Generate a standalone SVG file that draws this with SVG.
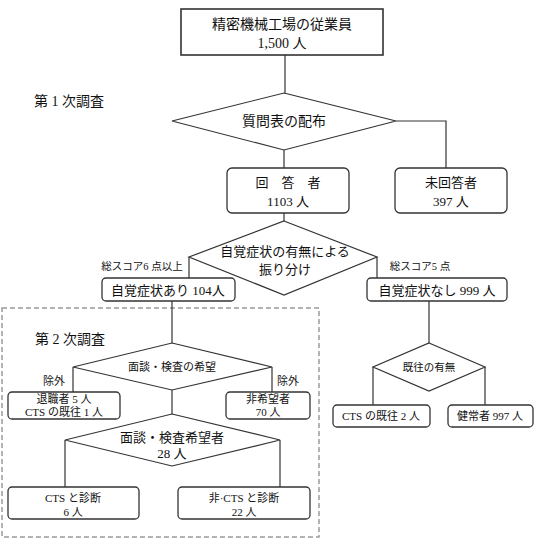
<svg xmlns="http://www.w3.org/2000/svg" width="540" height="545" viewBox="0 0 540 545">
<style>
text{font-family:"Liberation Serif","Noto Sans CJK JP",serif;fill:#111;text-anchor:middle;dominant-baseline:central}
.box{fill:#fff;stroke:#333;stroke-width:1.3}
.dia{fill:#fff;stroke:#333;stroke-width:1.2}
.ln{fill:none;stroke:#333;stroke-width:1.2}
.f14{font-size:14px}.f13{font-size:13px}.f12{font-size:12px}.f11{font-size:11px}.f10{font-size:10.5px}
.lab{text-anchor:start}
</style>
<rect width="540" height="545" fill="#fff"/>
<rect x="2" y="308" width="317" height="229" fill="none" stroke="#9a9a9a" stroke-width="1.5" stroke-dasharray="5,3"/>
<text class="f14 lab" x="34" y="101">第 1 次調査</text>
<text class="f14 lab" x="35" y="339">第 2 次調査</text>
<g id="connectors">
<path class="ln" d="M285 55V93"/>
<path class="ln" d="M396 121H446V168"/>
<path class="ln" d="M284 150V168"/>
<path class="ln" d="M284 213V221"/>
<path class="ln" d="M189 257V278"/>
<path class="ln" d="M377 257V278"/>
<path class="ln" d="M172 301V343"/>
<path class="ln" d="M429 301V343"/>
<path class="ln" d="M73 367V392"/>
<path class="ln" d="M272 367V392"/>
<path class="ln" d="M172 390V414"/>
<path class="ln" d="M65 440V487"/>
<path class="ln" d="M280 440V487"/>
<path class="ln" d="M373 367V405"/>
<path class="ln" d="M485 367V405"/>
<text class="f10" x="142" y="266">総スコア6 点以上</text>
<text class="f10" x="420" y="266">総スコア5 点</text>
<text class="f11" x="54" y="381">除外</text>
<text class="f11" x="288" y="381">除外</text>
</g>
<g id="employees">
<rect x="181" y="9" width="202" height="46" fill="#fff" stroke="#333" stroke-width="1.6"/>
<text class="f14" x="282" y="24">精密機械工場の従業員</text>
<text class="f14" x="282" y="43">1,500 人</text>
</g>
<g id="distribution">
<polygon class="dia" points="284,93 396,121 284,150 172,121"/>
<text class="f14" x="284" y="121">質問表の配布</text>
</g>
<g id="respondents">
<rect class="box" x="227" y="168" width="122" height="45" rx="5"/>
<text class="f13" x="288" y="182">回　答　者</text>
<text class="f13" x="288" y="201">1103 人</text>
</g>
<g id="nonrespondents">
<rect class="box" x="395" y="168" width="112" height="45" rx="5"/>
<text class="f13" x="451" y="182">未回答者</text>
<text class="f13" x="451" y="201">397 人</text>
</g>
<g id="sorting">
<polygon class="dia" points="284,221 377,257 284,295 189,257"/>
<text class="f13" x="285" y="251">自覚症状の有無による</text>
<text class="f13" x="285" y="269">振り分け</text>
</g>
<g id="symptomatic">
<rect class="box" x="102" y="278" width="133" height="23" rx="4"/>
<text class="f13" x="168" y="290">自覚症状あり 104人</text>
</g>
<g id="asymptomatic">
<rect class="box" x="367" y="278" width="140" height="23" rx="4"/>
<text class="f13" x="437" y="290">自覚症状なし 999 人</text>
</g>
<g id="wish">
<polygon class="dia" points="172,343 272,367 172,390 73,367"/>
<text class="f11" x="172" y="367">面談・検査の希望</text>
</g>
<g id="excluded">
<rect class="box" x="8" y="392" width="112" height="27" rx="4"/>
<text class="f11" x="64" y="399">退職者 5 人</text>
<text class="f11" x="64" y="412">CTS の既往 1 人</text>
</g>
<g id="nonwish">
<rect class="box" x="226" y="392" width="84" height="27" rx="4"/>
<text class="f11" x="268" y="399">非希望者</text>
<text class="f11" x="268" y="412">70 人</text>
</g>
<g id="wishers">
<polygon class="dia" points="172,414 280,440 172,466 65,440"/>
<text class="f13" x="172" y="437">面談・検査希望者</text>
<text class="f13" x="172" y="453">28 人</text>
</g>
<g id="cts">
<rect class="box" x="8" y="487" width="131" height="32" rx="4"/>
<text class="f11" x="73" y="498">CTS と診断</text>
<text class="f11" x="73" y="512">6 人</text>
</g>
<g id="noncts">
<rect class="box" x="178" y="487" width="132" height="32" rx="4"/>
<text class="f11" x="244" y="498">非·CTS と診断</text>
<text class="f11" x="244" y="512">22 人</text>
</g>
<g id="history">
<polygon class="dia" points="429,343 485,367 429,391 373,367"/>
<text class="f10" x="429" y="367">既往の有無</text>
</g>
<g id="ctshistory">
<rect class="box" x="333" y="405" width="97" height="22" rx="4"/>
<text class="f11" x="381" y="416">CTS の既往 2 人</text>
</g>
<g id="healthy">
<rect class="box" x="448" y="405" width="85" height="22" rx="4"/>
<text class="f11" x="490" y="416">健常者 997 人</text>
</g>
</svg>
